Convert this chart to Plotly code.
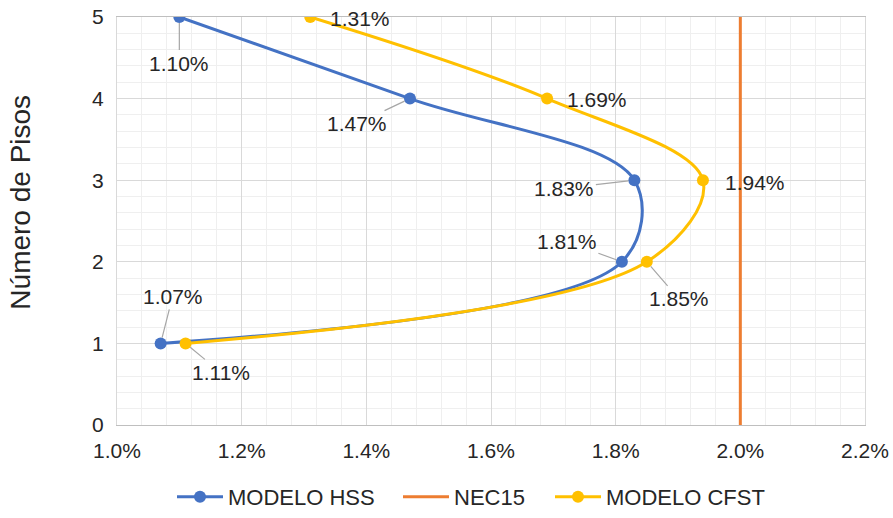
import plotly.graph_objects as go

# Story drift (%) per floor
pisos = [1, 2, 3, 4, 5]
deriva_hss = [1.07, 1.81, 1.83, 1.47, 1.10]
deriva_cfst = [1.11, 1.85, 1.94, 1.69, 1.31]
limite_nec15 = 2.0
nec_y = [0, 5]

x_ticks = [1.0, 1.2, 1.4, 1.6, 1.8, 2.0, 2.2]
y_ticks = [0, 1, 2, 3, 4, 5]

AZUL = "#4472C4"
NARANJA = "#ED7D31"
AMARILLO = "#FFC000"
TEXTO = "#262626"
FONT = "Liberation Sans, Arial, sans-serif"

fig = go.Figure()

fig.add_trace(go.Scatter(
    x=deriva_hss, y=pisos, name="MODELO HSS", mode="lines+markers",
    line=dict(color=AZUL, width=3, shape="spline", smoothing=1.0),
    marker=dict(color=AZUL, size=12), legend="legend",
))
fig.add_trace(go.Scatter(
    x=[limite_nec15, limite_nec15], y=nec_y, name="NEC15", mode="lines",
    line=dict(color=NARANJA, width=3), legend="legend2",
))
fig.add_trace(go.Scatter(
    x=deriva_cfst, y=pisos, name="MODELO CFST", mode="lines+markers",
    line=dict(color=AMARILLO, width=3, shape="spline", smoothing=1.0),
    marker=dict(color=AMARILLO, size=12), legend="legend3",
))

# Data labels: pixel offsets and whether a leader line is drawn
off_hss = [(12, -47, True), (-55, -20, True), (-70, 8, True), (-53, 25, True), (0, 46, True)]
off_cfst = [(35, 29, True), (32, 37, True), (52, 2, False), (50, 1, False), (50, 1, False)]

annotations = []
for xs, offs in ((deriva_hss, off_hss), (deriva_cfst, off_cfst)):
    for xv, yv, (dx, dy, leader) in zip(xs, pisos, offs):
        annotations.append(dict(
            x=xv, y=yv, xref="x", yref="y",
            text=f"{xv:.2f}%",
            showarrow=True, ax=dx, ay=dy,
            arrowhead=0, arrowwidth=1.2, standoff=6,
            arrowcolor="#A6A6A6" if leader else "rgba(0,0,0,0)",
            font=dict(family=FONT, size=21, color=TEXTO),
        ))

# vertical axis title
annotations.append(dict(
    text="Número de Pisos", textangle=-90, showarrow=False,
    xref="paper", yref="paper", x=0, y=0.545, xanchor="center", yanchor="middle",
    xshift=-96, font=dict(family=FONT, size=28, color=TEXTO),
))

# one legend box per series so the entries can be spaced freely along the bottom
PLOT_L, PLOT_W, PLOT_H = 117, 748, 408


def legend_box(px):
    return dict(orientation="h", x=(px - PLOT_L) / PLOT_W, xanchor="left",
                y=-93 / PLOT_H, yanchor="bottom", itemwidth=46,
                bgcolor="rgba(0,0,0,0)",
                font=dict(family=FONT, size=22, color=TEXTO))


fig.update_layout(
    width=893, height=518,
    margin=dict(l=117, r=28, t=17, b=93, autoexpand=False),
    paper_bgcolor="white", plot_bgcolor="white",
    font=dict(family=FONT, size=21, color=TEXTO),
    annotations=annotations,
    showlegend=True,
    legend=legend_box(172),
    legend2=legend_box(398),
    legend3=legend_box(550),
)
fig.update_xaxes(
    range=[1.0, 2.2], tickvals=x_ticks, ticktext=[f"{v:.1f}%" for v in x_ticks],
    showgrid=True, gridcolor="#D9D9D9", gridwidth=1,
    minor=dict(dtick=0.04, showgrid=True, gridcolor="#EFEFEF", gridwidth=1),
    showline=True, linecolor="#BFBFBF", linewidth=1, mirror=True,
    zeroline=False, ticks="", ticklabelstandoff=7, automargin=False,
    tickfont=dict(family=FONT, size=21, color=TEXTO),
)
fig.update_yaxes(
    range=[0, 5], tickvals=y_ticks,
    showgrid=True, gridcolor="#D9D9D9", gridwidth=1,
    minor=dict(dtick=0.2, showgrid=True, gridcolor="#EFEFEF", gridwidth=1),
    showline=True, linecolor="#D9D9D9", linewidth=1, mirror=True,
    zeroline=False, ticks="", ticklabelstandoff=8, automargin=False,
    tickfont=dict(family=FONT, size=21, color=TEXTO),
)

fig.write_html("out.html")
